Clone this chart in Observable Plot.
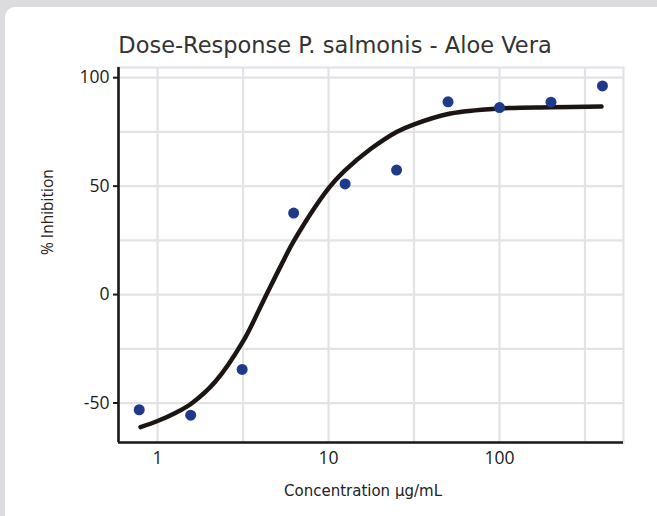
<!DOCTYPE html>
<html><head><meta charset="utf-8">
<script src="https://cdn.jsdelivr.net/npm/d3@7"></script>
<script src="https://cdn.jsdelivr.net/npm/@observablehq/plot@0.6"></script>
<style>
html,body{margin:0;padding:0;background:#dcdce0;width:657px;height:516px;overflow:hidden}
#card{position:absolute;left:5px;top:7px;width:720px;height:580px;background:#fff;border-radius:10px}
#chart{position:absolute;left:0;top:0}
</style></head>
<body>
<div id="card"></div>
<div id="chart"></div>
<script>
const titleText = "Dose-Response P. salmonis - Aloe Vera";
const xLabel = "Concentration µg/mL";
const yLabel = "% Inhibition";

// measured points
const conc = [0.78125, 1.5625, 3.125, 6.25, 12.5, 25, 50, 100, 200, 400];
const inhibition = [-53.1, -55.6, -34.5, 37.6, 51.0, 57.4, 88.9, 86.2, 88.7, 96.2];

// fitted curve
const fitConc = [0.795, 1, 1.27, 1.58, 2.18, 3.16, 4.17, 5.24, 6.32, 10.1, 12.4, 17.6, 25, 31.4, 51.7, 98.6, 199, 395];
const fitInhibition = [-61.1, -58.3, -54.6, -50.2, -40.1, -21.6, -2.7, 13.0, 25.2, 49.4, 57.0, 67.1, 75.0, 78.4, 83.5, 85.8, 86.4, 86.7];

const xTicks = [1, 10, 100];
const yTicks = [-50, 0, 50, 100];
const xGrid = [1, 3.162, 10, 31.62, 100, 316.2];
const yGrid = [-50, -25, 0, 25, 50, 75, 100];
const xDomain = [0.591, 531];
const yDomain = [-68.2, 104.7];

const pts = conc.map((c, i) => ({c, v: inhibition[i]}));
const fit = fitConc.map((c, i) => ({c, v: fitInhibition[i]}));

const gridColor = "#e3e2e5";
const plot = Plot.plot({
  width: 657, height: 516,
  marginLeft: 118, marginRight: 34, marginTop: 67, marginBottom: 74,
  style: {background: "transparent", fontFamily: "'Open Sans'", fontSize: "17.5px", color: "#1a1a1a", overflow: "visible"},
  x: {type: "log", domain: xDomain},
  y: {domain: yDomain},
  marks: [
    Plot.ruleX(xGrid, {stroke: gridColor, strokeWidth: 2.2}),
    Plot.ruleY(yGrid, {stroke: gridColor, strokeWidth: 2.2}),
    Plot.frame({stroke: gridColor, strokeWidth: 2.2}),
    Plot.axisY({ticks: yTicks, tickSize: 5, tickPadding: 4, tickFormat: d => String(d), label: null, strokeWidth: 2}),
    Plot.axisX({ticks: xTicks, tickSize: 0, tickPadding: 9, tickFormat: d => String(d), label: null}),
    Plot.ruleX([xDomain[0]], {stroke: "#1a1a1a", strokeWidth: 2.6}),
    Plot.ruleY([yDomain[0]], {stroke: "#1a1a1a", strokeWidth: 2.6, x1: xDomain[0], x2: xDomain[1]}),
    Plot.line(fit, {x: "c", y: "v", curve: "catmull-rom", stroke: "#1c1512", strokeWidth: 4.5}),
    Plot.dot(pts, {x: "c", y: "v", r: 5.5, fill: "#1f3a8a"}),
    Plot.text([titleText], {text: d => d, frameAnchor: "top", lineAnchor: "middle", dx: -36, dy: -22, fontSize: 22.5, fontFamily: "DejaVu Sans", fill: "#333"}),
    Plot.text([xLabel], {text: d => d, frameAnchor: "bottom", lineAnchor: "middle", dx: -8, dy: 49, fontSize: 15, fontFamily: "DejaVu Sans", fill: "#222"}),
    Plot.text([yLabel], {text: d => d, frameAnchor: "left", lineAnchor: "middle", rotate: -90, dx: -70, fontSize: 15.5, fontFamily: "'Open Sans'", fill: "#222"})
  ]
});
document.getElementById("chart").appendChild(plot);
</script>
</body></html>
